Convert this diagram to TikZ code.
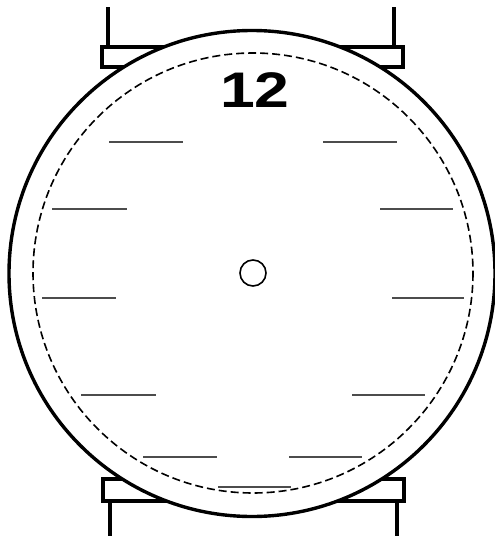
\documentclass[tikz,border=0pt]{standalone}
\usepackage{fontspec}
\usepackage{tikz}
\newfontfamily\dialfont{Liberation Sans}

\begin{document}
\begin{tikzpicture}[x=1pt,y=-1pt,
  strap/.style={line width=3.6pt},
  caseline/.style={line width=3.4pt,fill=white},
  tickline/.style={line width=1.6pt,black!70}]
\useasboundingbox (0,0) rectangle (495,536);

% straps and lugs
\draw[strap] (108,7) -- (108,47);
\draw[strap] (394,7) -- (394,47);
\draw[strap] (102,47) rectangle (403,67);
\draw[strap] (103,479) rectangle (404,501);
\draw[strap] (110,501) -- (110,538);
\draw[strap] (397,501) -- (397,538);

% case and dial
\draw[caseline] (252,273.5) circle (243);
\draw[line width=1.6pt,dash pattern=on 8pt off 4pt] (253,273) circle (220);

\foreach \xa/\xb/\yy in {109/183/142,323/397/142,52/127/209,380/453/209,
  42/116/298,392/464/298,81/156/395,352/425/395,143/217/457,289/362/457,218/291/487}
  \draw[tickline] (\xa,\yy) -- (\xb,\yy);

\node[font=\dialfont\bfseries\fontsize{50}{50}\selectfont,xscale=1.25,inner sep=0pt] (twelve) at (255,90) {12};
\node[circle,draw,line width=1.6pt,minimum size=26pt,inner sep=0pt] (hub) at (253,273) {};
\end{tikzpicture}
\end{document}
